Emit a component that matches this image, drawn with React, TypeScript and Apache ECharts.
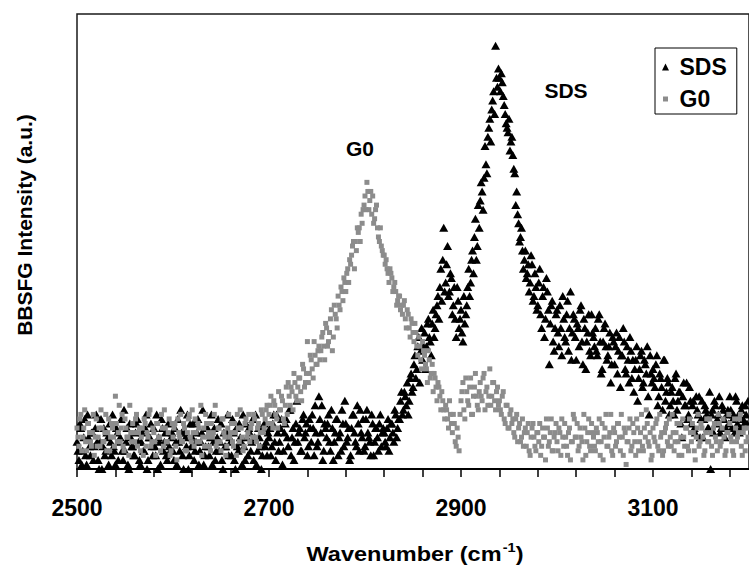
import React, { useEffect, useRef } from "react";
import * as echarts from "echarts";

// x sampling step (cm^-1); the "2" arrays are the interleaved samples 1 cm^-1 later
const STEP = 2;

// SDS (black triangles)
const SDS_A_START = 2500;
const sdsA = [
  6, 2, 9, 4, 11, 1, 7, 3, 8, 5,
  12, 2, 6, 0, 9, 4, 7, 10, 3, 5,
  1, 8, 6, 11, 2, 4, 9, 0, 7, 5,
  3, 10, 6, 1, 8, 4, 12, 2, 7, 5,
  9, 3, 0, 6, 11, 4, 8, 2, 5, 7,
  4, 9, 1, 6, 13, 3, 8, 5, 0, 10,
  7, 2, 6, 11, 4, 8, 1, 5, 9, 3,
  12, 6, 2, 7, 4, 10, 0, 5, 8, 3,
  6, 11, 2, 9, 4, 7, 1, 5, 10, 3,
  8, 6, 2, 12, 4, 7, 0, 9, 5, 3,
];
const SDS_A2_START = 2501;
const sdsA2 = [
  4, 10, 1, 7, 3, 12, 5, 8, 2, 9,
  6, 0, 11, 5, 3, 8, 1, 6, 12, 4,
  9, 2, 7, 4, 13, 6, 1, 10, 5, 3,
  8, 11, 2, 6, 4, 9, 0, 7, 10, 3,
  5, 12, 7, 1, 9, 6, 3, 10, 4, 8,
  2, 6, 11, 4, 8, 0, 7, 12, 3, 5,
  10, 4, 8, 1, 6, 13, 3, 9, 5, 7,
  1, 9, 4, 11, 6, 2, 8, 5, 12, 7,
  3, 8, 0, 5, 10, 6, 12, 2, 7, 9,
  4, 11, 7, 1, 9, 5, 3, 10, 6, 8,
];
const SDS_B_START = 2700;
const sdsB = [
  7, 3, 10, 6, 12, 4, 9, 1, 8, 11,
  5, 13, 7, 2, 10, 6, 9, 4, 12, 8,
  3, 11, 6, 9, 14, 5, 16, 8, 2, 10,
  7, 12, 4, 9, 6, 11, 3, 8, 13, 5,
  10, 7, 2, 9, 12, 6, 14, 4, 8, 11,
  5, 13, 7, 3, 10, 6, 9, 4, 12, 8,
];
const SDS_B2_START = 2701;
const sdsB2 = [
  9, 5, 12, 2, 8, 6, 11, 4, 10, 7,
  13, 3, 9, 6, 15, 8, 4, 11, 7, 10,
  5, 9, 12, 3, 8, 6, 11, 14, 4, 9,
  10, 6, 13, 2, 8, 11, 7, 4, 10, 15,
  6, 9, 3, 12, 8, 5, 10, 13, 7, 4,
  11, 8, 6, 12, 3, 9, 7, 10, 5, 9,
];
const SDS_C_START = 2820;
const sdsC = [
  8, 5, 11, 7, 10, 6, 12, 9, 11, 17,
  13, 16, 19, 15, 21, 18, 25, 22, 29, 26,
  24, 30, 27, 33, 28, 32, 29, 34, 38, 40,
  37, 53, 41, 49, 39, 42, 36, 33, 40, 31,
  35, 28, 32, 36, 44, 41, 48, 51, 46, 58,
  59, 61, 64, 67, 73, 77, 79, 83, 93, 84,
  86, 87, 82, 78, 75, 77, 72, 69, 65, 61,
  54, 51, 48, 46, 42, 45, 41, 45, 38, 40,
  36, 44, 31, 40, 33, 39, 23, 36, 28, 31,
];
const SDS_C2_START = 2821;
const sdsC2 = [
  6, 9, 4, 10, 8, 13, 7, 11, 15, 12,
  17, 14, 12, 20, 17, 23, 20, 27, 19, 31,
  27, 22, 32, 29, 25, 35, 31, 36, 33, 44,
  46, 39, 45, 38, 43, 34, 40, 29, 37, 33,
  30, 38, 34, 40, 38, 46, 43, 55, 49, 53,
  63, 57, 71, 65, 75, 72, 81, 78, 86, 88,
  83, 85, 80, 76, 74, 70, 73, 66, 58, 56,
  50, 53, 44, 48, 43, 39, 47, 37, 43, 35,
  41, 34, 38, 29, 42, 35, 32, 37, 26, 34,
];
const SDS_D_START = 3000;
const sdsD = [
  35, 27, 31, 38, 29, 34, 26, 39, 30, 33,
  24, 31, 35, 28, 33, 22, 30, 26, 34, 29,
  31, 25, 34, 21, 28, 32, 24, 27, 19, 29,
  23, 30, 26, 18, 25, 28, 21, 24, 29, 20,
  17, 24, 15, 22, 26, 19, 23, 27, 12, 21,
  22, 18, 25, 16, 20, 13, 24, 17, 19, 14,
  18, 12, 21, 15, 17, 7, 19, 14, 11, 18,
  10, 15, 8, 13, 16, 11, 7, 14, 12, 9,
  0, 13, 15, 10, 12, 8, 14, 11, 9, 13,
  16, 9, 12, 16, 10, 8, 13, 11, 14, 10,
];
const SDS_D2_START = 3001;
const sdsD2 = [
  30, 36, 25, 33, 28, 37, 31, 24, 34, 29,
  32, 27, 36, 23, 31, 28, 34, 25, 30, 27,
  26, 33, 28, 22, 31, 27, 25, 30, 23, 28,
  27, 21, 29, 25, 31, 22, 27, 19, 26, 24,
  22, 27, 20, 25, 18, 24, 21, 16, 25, 19,
  20, 23, 14, 21, 18, 24, 15, 20, 12, 17,
  15, 20, 13, 17, 10, 16, 14, 19, 12, 15,
  14, 9, 16, 12, 7, 15, 11, 13, 9, 17,
  12, 8, 14, 11, 16, 9, 13, 7, 12, 10,
  13, 11, 8, 15, 12, 9, 14, 10, 12, 15,
];

// G0 (grey squares)
const G0_A_START = 2500;
const g0A = [
  9, 5, 12, 7, 13, 4, 10, 6, 8, 3,
  11, 7, 5, 9, 6, 12, 8, 4, 10, 7,
  16, 6, 14, 9, 5, 11, 7, 3, 8, 10,
  6, 12, 8, 4, 9, 11, 5, 7, 13, 6,
  8, 3, 10, 7, 12, 5, 9, 6, 11, 4,
  7, 10, 2, 8, 12, 6, 9, 4, 11, 7,
  13, 5, 8, 10, 6, 3, 9, 12, 7, 5,
  10, 8, 14, 6, 9, 4, 11, 7, 5, 12,
  8, 6, 10, 3, 9, 13, 7, 5, 11, 8,
  6, 10, 12, 7, 9, 5, 13, 8, 11, 14,
];
const G0_A2_START = 2501;
const g0A2 = [
  7, 11, 4, 9, 6, 10, 8, 5, 12, 7,
  5, 9, 13, 6, 8, 4, 11, 7, 9, 5,
  10, 8, 6, 12, 4, 9, 7, 14, 6, 8,
  11, 5, 9, 7, 3, 10, 8, 12, 5, 9,
  6, 10, 7, 4, 9, 13, 6, 8, 3, 10,
  9, 5, 11, 7, 6, 10, 4, 8, 12, 6,
  8, 11, 6, 9, 14, 7, 5, 10, 8, 4,
  7, 12, 5, 9, 6, 11, 8, 3, 9, 7,
  10, 5, 8, 12, 6, 9, 4, 10, 7, 12,
  9, 7, 11, 6, 10, 8, 12, 9, 13, 10,
];
const G0_B_START = 2700;
const g0B = [
  12, 16, 9, 14, 11, 17, 13, 15, 10, 18,
  19, 14, 17, 21, 16, 18, 20, 15, 22, 19,
  28, 21, 24, 20, 25, 23, 27, 26, 30, 24,
  31, 28, 33, 26, 36, 33, 38, 35, 39, 42,
  39, 44, 46, 47, 50, 50, 53, 53, 56, 57,
  60, 63, 57, 61, 60, 55, 58, 51, 53, 48,
  47, 46, 43, 44, 42, 40, 39, 37, 38, 36,
  36, 33, 35, 31, 33, 30, 32, 27, 29, 24,
  28, 25, 22, 26, 20, 23, 21, 18, 19, 16,
  17, 13, 14, 11, 15, 10, 12, 6, 9, 4,
];
const G0_B2_START = 2701;
const g0B2 = [
  14, 10, 15, 12, 9, 13, 16, 11, 14, 12,
  16, 18, 13, 19, 15, 20, 17, 23, 18, 21,
  19, 25, 22, 28, 23, 26, 24, 29, 27, 32,
  27, 30, 35, 29, 34, 31, 36, 40, 37, 41,
  43, 41, 45, 49, 44, 48, 52, 50, 54, 58,
  57, 61, 59, 56, 54, 57, 53, 50, 49, 47,
  45, 44, 41, 43, 39, 41, 36, 38, 35, 34,
  37, 31, 34, 29, 32, 28, 30, 25, 27, 22,
  26, 23, 19, 24, 21, 17, 20, 15, 18, 13,
  15, 11, 13, 9, 12, 8, 10, 5, 7, 12,
];
const G0_C_START = 2900;
const g0C = [
  15, 19, 11, 17, 14, 20, 12, 18, 16, 13,
  19, 15, 21, 17, 14, 22, 16, 19, 13, 18,
  15, 12, 17, 10, 14, 9, 13, 11, 7, 12,
  9, 6, 11, 8, 5, 10, 3, 9, 7, 4,
  8, 10, 5, 7, 2, 9, 6, 11, 4, 8,
  6, 9, 3, 7, 10, 5, 8, 2, 6, 11,
  7, 4, 9, 6, 12, 3, 8, 5, 10, 7,
  4, 8, 11, 6, 2, 9, 5, 7, 12, 3,
  8, 6, 10, 4, 7, 9, 1, 6, 11, 5,
  8, 3, 9, 6, 12, 4, 7, 10, 5, 2,
  9, 6, 11, 4, 7, 3, 8, 10, 5, 7,
  12, 4, 8, 6, 10, 3, 7, 9, 5, 11,
  6, 8, 2, 9, 5, 10, 7, 4, 11, 6,
  8, 3, 10, 6, 12, 5, 9, 7, 4, 8,
  10, 6, 3, 9, 7, 11, 5, 8, 4, 9,
];
const G0_C2_START = 2901;
const g0C2 = [
  17, 13, 20, 15, 18, 12, 16, 21, 14, 17,
  16, 20, 13, 18, 16, 14, 19, 15, 17, 14,
  13, 16, 11, 14, 9, 12, 10, 8, 11, 6,
  10, 7, 5, 9, 8, 4, 7, 10, 5, 8,
  6, 3, 9, 7, 11, 5, 8, 4, 7, 10,
  4, 8, 11, 5, 7, 3, 9, 6, 12, 7,
  10, 5, 7, 2, 9, 6, 11, 4, 8, 5,
  9, 6, 3, 10, 7, 12, 5, 8, 4, 9,
  5, 10, 7, 12, 3, 8, 6, 9, 4, 10,
  6, 11, 4, 8, 5, 9, 13, 6, 8, 3,
  7, 10, 5, 12, 8, 4, 9, 6, 11, 5,
  8, 6, 10, 3, 7, 11, 5, 9, 4, 8,
  10, 4, 7, 12, 6, 9, 3, 8, 6, 11,
  5, 9, 7, 4, 10, 6, 11, 3, 8, 12,
  7, 4, 11, 6, 8, 12, 3, 9, 6, 7,
];

const X_MIN = 2500;
const X_MAX = 3200;
const TICK_STEP = 40;
const LABEL_STEP = 200;

const FONT = "'Liberation Sans', Arial, Helvetica, sans-serif";

function toPairs(start: number, values: number[]) {
  return values.map((v, i) => [start + i * STEP, v]);
}

export default function App() {
  const ref = useRef<HTMLDivElement>(null);
  useEffect(() => {
    document.body.style.margin = "0";
    if (!ref.current) return;
    const chart = echarts.init(ref.current, undefined, { renderer: "svg" });
    const sdsData = [
      ...toPairs(SDS_A_START, sdsA),
      ...toPairs(SDS_A2_START, sdsA2),
      ...toPairs(SDS_B_START, sdsB),
      ...toPairs(SDS_B2_START, sdsB2),
      ...toPairs(SDS_C_START, sdsC),
      ...toPairs(SDS_C2_START, sdsC2),
      ...toPairs(SDS_D_START, sdsD),
      ...toPairs(SDS_D2_START, sdsD2),
    ];
    const g0Data = [
      ...toPairs(G0_A_START, g0A),
      ...toPairs(G0_A2_START, g0A2),
      ...toPairs(G0_B_START, g0B),
      ...toPairs(G0_B2_START, g0B2),
      ...toPairs(G0_C_START, g0C),
      ...toPairs(G0_C2_START, g0C2),
    ];
    chart.setOption({
      animation: false,
      backgroundColor: "#fff",
      grid: {
        left: 77,
        top: 14,
        width: 679,
        height: 455,
        show: true,
        borderColor: "#1a1a1a",
        borderWidth: 1.5,
        backgroundColor: "transparent",
      },
      xAxis: {
        type: "value",
        min: X_MIN,
        max: X_MAX,
        interval: TICK_STEP,
        axisLine: { show: true, lineStyle: { color: "#000", width: 2 } },
        axisTick: { show: true, inside: false, length: 8, lineStyle: { color: "#000", width: 1.5 } },
        axisLabel: {
          formatter: (v: number) => ((v - X_MIN) % LABEL_STEP === 0 ? String(v) : ""),
          fontSize: 23,
          fontWeight: "bold",
          fontFamily: FONT,
          color: "#000",
          margin: 27,
          showMinLabel: true,
          showMaxLabel: false,
        },
        splitLine: { show: false },
      },
      yAxis: {
        type: "value",
        min: 0,
        max: 100,
        axisLine: { show: false },
        axisTick: { show: false },
        axisLabel: { show: false },
        splitLine: { show: false },
      },
      legend: {
        orient: "vertical",
        left: 655,
        top: 48,
        padding: [6, 10, 2, 7],
        itemGap: 6,
        itemWidth: 18,
        itemHeight: 7,
        symbolKeepAspect: true,
        borderColor: "#000",
        borderWidth: 1,
        backgroundColor: "#fff",
        textStyle: { fontSize: 23, fontWeight: "bold", fontFamily: FONT, color: "#000", lineHeight: 26 },
        data: [
          { name: "SDS", icon: "path://M3.5,0L7,7L0,7Z" },
          { name: "G0", icon: "path://M0,0M7,7M1,1L6,1L6,6L1,6Z" },
        ],
      },
      series: [
        {
          type: "scatter",
          name: "SDS",
          symbol: "triangle",
          symbolSize: [9, 8],
          itemStyle: { color: "#000", opacity: 1 },
          data: sdsData,
        },
        {
          type: "scatter",
          name: "G0",
          symbol: "rect",
          symbolSize: 5,
          itemStyle: { color: "#8c8c8c", opacity: 1 },
          data: g0Data,
        },
      ],
      graphic: [
        {
          type: "text",
          x: 24,
          y: 225,
          rotation: Math.PI / 2,
          style: {
            text: "BBSFG Intensity (a.u.)",
            fontSize: 21,
            fontWeight: "bold",
            fontFamily: FONT,
            fill: "#000",
            align: "center",
            verticalAlign: "middle",
          },
        },
        {
          type: "text",
          x: 415,
          y: 554,
          scaleX: 1.12,
          style: {
            text: "{a|Wavenumber (cm}{s|-1}{a|)}",
            align: "center",
            verticalAlign: "middle",
            fill: "#000",
            rich: {
              a: { fontSize: 21, fontWeight: "bold", fontFamily: FONT, fill: "#000" },
              s: { fontSize: 13, fontWeight: "bold", fontFamily: FONT, fill: "#000", padding: [0, 0, 12, 1] },
            },
          },
        },
        {
          type: "text",
          x: 360,
          y: 148,
          style: {
            text: "G0",
            fontSize: 21,
            fontWeight: "bold",
            fontFamily: FONT,
            fill: "#000",
            align: "center",
            verticalAlign: "middle",
          },
        },
        {
          type: "text",
          x: 566,
          y: 90,
          style: {
            text: "SDS",
            fontSize: 21,
            fontWeight: "bold",
            fontFamily: FONT,
            fill: "#000",
            align: "center",
            verticalAlign: "middle",
          },
        },
      ],
    });
    return () => chart.dispose();
  }, []);
  return (
    <div
      ref={ref}
      style={{ position: "absolute", left: 0, top: 0, width: 749, height: 567 }}
    />
  );
}
